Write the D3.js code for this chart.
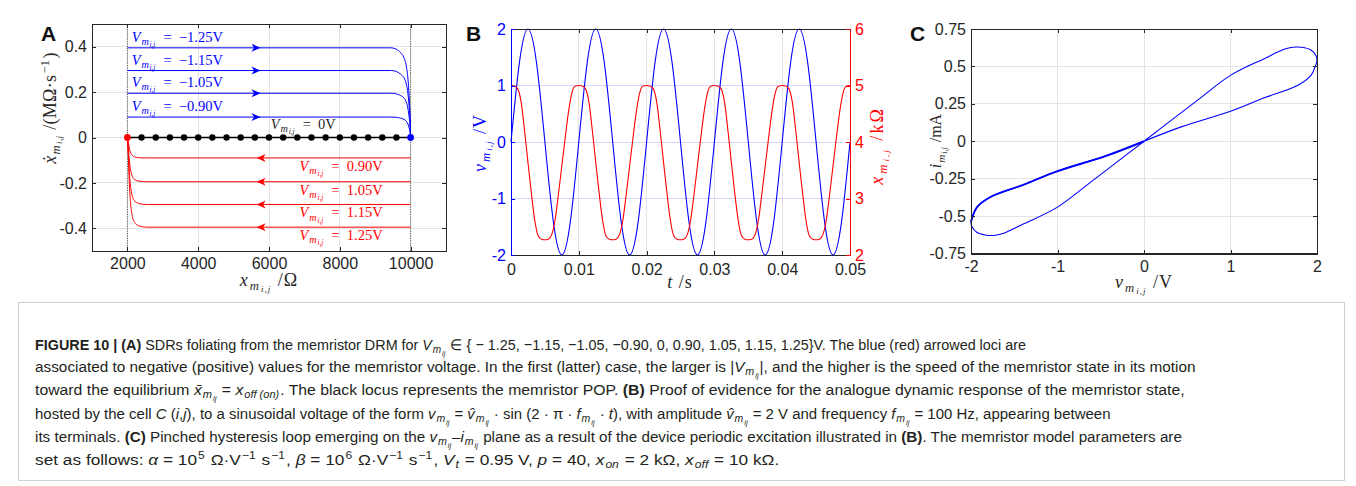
<!DOCTYPE html>
<html>
<head>
<meta charset="utf-8">
<script src="https://cdn.jsdelivr.net/npm/d3@7"></script>
<style>
  body { margin: 0; background: #fff; }
  svg text { white-space: pre; }
</style>
</head>
<body>
<svg id="fig" width="1356" height="486"></svg>
<script>
// ---------- data ----------

// panel A: state speed loci (x in ohm, xdot in MOhm/s)
const aXTicks = [2000, 4000, 6000, 8000, 10000]
const aYTicks = [-0.4, -0.2, 0, 0.2, 0.4]
const blueNames = ["\u22121.25V", "\u22121.15V", "\u22121.05V", "\u22120.90V"]
const blueX = [2000, 9455, 9596, 9718, 9812, 9878, 9925, 9963, 9991, 10000]
const blueY = [
  [0.395, 0.395, 0.389, 0.374, 0.352, 0.316, 0.258, 0.170, 0.068, 0],
  [0.295, 0.295, 0.291, 0.279, 0.263, 0.236, 0.193, 0.127, 0.051, 0],
  [0.195, 0.195, 0.192, 0.185, 0.174, 0.156, 0.127, 0.084, 0.034, 0],
  [0.090, 0.090, 0.089, 0.085, 0.080, 0.072, 0.059, 0.039, 0.015, 0]
]
const redNames = ["0.90V", "1.05V", "1.15V", "1.25V"]
const redX = [2000, 2028, 2056, 2094, 2141, 2207, 2282, 2423, 2564, 10000]
const redY = [
  [0, -0.021, -0.048, -0.068, -0.079, -0.086, -0.088, -0.090, -0.090, -0.090],
  [0, -0.045, -0.103, -0.146, -0.172, -0.185, -0.191, -0.194, -0.195, -0.195],
  [0, -0.069, -0.156, -0.221, -0.260, -0.280, -0.288, -0.294, -0.295, -0.295],
  [0, -0.092, -0.209, -0.296, -0.348, -0.375, -0.386, -0.393, -0.395, -0.395]
]
const blueArrowX = 5760
const redArrowX = 5650
const popDots = [2400, 2800, 3200, 3600, 4000, 4400, 4800, 5200, 5600, 6000,
                 6400, 6800, 7200, 7600, 8000, 8400, 8800, 9200, 9600]
const xOn = 2000, xOff = 10000

// panel B: voltage and state versus time
const bXTicks = [0, 0.01, 0.02, 0.03, 0.04, 0.05]
const bYTicks = [-2, -1, 0, 1, 2]
const bY2Ticks = [2, 3, 4, 5, 6]
const vTime = d3.range(41).map(k => k * 0.00125)
const vVolt = [0, 1.414, 2, 1.414, 0, -1.414, -2, -1.414,
               0, 1.414, 2, 1.414, 0, -1.414, -2, -1.414,
               0, 1.414, 2, 1.414, 0, -1.414, -2, -1.414,
               0, 1.414, 2, 1.414, 0, -1.414, -2, -1.414,
               0, 1.414, 2, 1.414, 0, -1.414, -2, -1.414, 0]
const xTime = d3.range(101).map(k => k * 0.0005)
const xState = [
  5.00, 4.99, 4.94, 4.70, 4.20, 3.64, 3.10, 2.62, 2.34, 2.28, 2.27, 2.28, 2.36, 2.62, 3.08, 3.58, 4.08, 4.55, 4.88, 4.99,
  5.00, 4.99, 4.94, 4.70, 4.20, 3.64, 3.10, 2.62, 2.34, 2.28, 2.27, 2.28, 2.36, 2.62, 3.08, 3.58, 4.08, 4.55, 4.88, 4.99,
  5.00, 4.99, 4.94, 4.70, 4.20, 3.64, 3.10, 2.62, 2.34, 2.28, 2.27, 2.28, 2.36, 2.62, 3.08, 3.58, 4.08, 4.55, 4.88, 4.99,
  5.00, 4.99, 4.94, 4.70, 4.20, 3.64, 3.10, 2.62, 2.34, 2.28, 2.27, 2.28, 2.36, 2.62, 3.08, 3.58, 4.08, 4.55, 4.88, 4.99,
  5.00, 4.99, 4.94, 4.70, 4.20, 3.64, 3.10, 2.62, 2.34, 2.28, 2.27, 2.28, 2.36, 2.62, 3.08, 3.58, 4.08, 4.55, 4.88, 4.99,
  5.00]

// panel C: pinched hysteresis loop (V, mA) in traversal order
const cXTicks = [-2, -1, 0, 1, 2]
const cYTicks = [-0.75, -0.5, -0.25, 0, 0.25, 0.5, 0.75]
const loopV = [0, 0.43, 1.0, 1.39, 1.78, 1.93, 1.98, 2.0, 1.99, 1.93, 1.82, 1.72, 1.62, 1.39, 1.0, 0.62, 0,
               -0.62, -1.0, -1.39, -1.62, -1.72, -1.82, -1.93, -1.99, -2.0, -1.98, -1.93, -1.78, -1.39, -1.0, -0.43, 0]
const loopI = [0, 0.096, 0.20, 0.29, 0.374, 0.44, 0.50, 0.54, 0.57, 0.61, 0.628, 0.628, 0.614, 0.552, 0.44, 0.275, 0,
               -0.275, -0.44, -0.552, -0.614, -0.628, -0.628, -0.61, -0.57, -0.54, -0.50, -0.44, -0.374, -0.29, -0.20, -0.096, 0]

// ---------- setup ----------
const svg = d3.select("#fig")
const ink = "#262626"
const gridGray = "#e3e3e3"
const blue = "#0000ff", red = "#ff0000"
const sans = "'Liberation Sans', Arial, sans-serif"
const serif = "'Liberation Serif', 'Times New Roman', serif"
const tickFont = 16
const labelFont = 18

// appends tspans; flags: b bold, i italic, 1 subscript, 2 sub-subscript, ^ superscript
function rich(text, segs, fs) {
  let cur = 0
  segs.forEach(([s, f = ""]) => {
    let off = 0, size = fs
    if (f.includes("1")) { off = 0.22 * fs; size = 0.7 * fs }
    if (f.includes("2")) { off = 0.36 * fs; size = 0.5 * fs }
    if (f.includes("^")) { off = -0.38 * fs; size = 0.7 * fs }
    const ts = text.append("tspan").text(s).attr("dy", off - cur).attr("font-size", size)
    if (off !== cur) ts.attr("dx", 0.06 * fs)
    if (f.includes("i")) ts.attr("font-style", "italic")
    if (f.includes("b")) ts.attr("font-weight", "bold")
    cur = off
  })
  return text
}

function grid(x, y, xt, yt, xc, yc) {
  const g = svg.append("g").attr("shape-rendering", "crispEdges")
  g.selectAll(".gx").data(xt).join("line").attr("class", "gx")
    .attr("x1", d => x(d)).attr("x2", d => x(d))
    .attr("y1", y.range()[0]).attr("y2", y.range()[1]).attr("stroke", xc)
  g.selectAll(".gy").data(yt).join("line").attr("class", "gy")
    .attr("y1", d => y(d)).attr("y2", d => y(d))
    .attr("x1", x.range()[0]).attr("x2", x.range()[1]).attr("stroke", yc)
}

function styleAxis(g, color) {
  g.attr("font-family", sans).attr("font-size", tickFont).attr("color", color)
   .attr("shape-rendering", "crispEdges")
  g.selectAll("text").attr("shape-rendering", null)
}

// bottom/top/left/right axes with inward ticks
function axes(x, y, xt, yt, colors, padX = 7) {
  const [x0, x1] = x.range(), [y0, y1] = y.range()
  const fmt = d => String(d)
  svg.append("g").attr("transform", `translate(0,${y1})`)
    .call(d3.axisTop(x).tickValues(xt).tickFormat("").tickSizeInner(-4).tickSizeOuter(0))
    .call(g => styleAxis(g, colors.top))
  svg.append("g").attr("transform", `translate(0,${y0})`)
    .call(d3.axisBottom(x).tickValues(xt).tickFormat(fmt).tickSizeInner(-4).tickSizeOuter(0).tickPadding(padX))
    .call(g => styleAxis(g, colors.bottom))
  svg.append("g").attr("transform", `translate(${x0},0)`)
    .call(d3.axisLeft(y).tickValues(yt).tickFormat(fmt).tickSizeInner(-4).tickSizeOuter(0).tickPadding(5))
    .call(g => styleAxis(g, colors.left))
  if (colors.right) {
    svg.append("g").attr("transform", `translate(${x1},0)`)
      .call(d3.axisRight(y).tickValues(yt).tickFormat("").tickSizeInner(-4).tickSizeOuter(0))
      .call(g => styleAxis(g, colors.right))
  }
}

function panelLetter(x, y, s) {
  svg.append("text").attr("x", x).attr("y", y).text(s)
    .attr("font-family", sans).attr("font-weight", "bold").attr("font-size", 21).attr("fill", "#111")
}

function rotLabel(x, y, segs, fs, color, ls = 1) {
  const t = svg.append("text").attr("transform", `translate(${x},${y}) rotate(-90)`)
    .attr("text-anchor", "middle").attr("font-family", serif).attr("fill", color)
    .attr("letter-spacing", ls)
  return rich(t, segs, fs)
}

function xLabel(x, y, segs, fs, color, ls = 1) {
  const t = svg.append("text").attr("x", x).attr("y", y)
    .attr("text-anchor", "middle").attr("font-family", serif).attr("fill", color)
    .attr("letter-spacing", ls)
  return rich(t, segs, fs)
}

// ---------- panel A ----------
const xA = d3.scaleLinear().domain([1000, 11000]).range([92, 446])
const yA = d3.scaleLinear().domain([-0.5, 0.5]).range([251, 24])

grid(xA, yA, aXTicks, aYTicks, gridGray, gridGray)

// dotted boundaries at x_on and x_off
svg.append("g").selectAll("line").data([xOn, xOff]).join("line")
  .attr("x1", d => xA(d)).attr("x2", d => xA(d))
  .attr("y1", yA.range()[0]).attr("y2", yA.range()[1])
  .attr("stroke", "#555").attr("stroke-width", 1).attr("stroke-dasharray", "1.2,1.2")

const lineA = d3.line().curve(d3.curveMonotoneX)
blueY.forEach((ys, k) => {
  svg.append("path").attr("d", lineA(blueX.map((x, i) => [xA(x), yA(ys[i])])))
    .attr("fill", "none").attr("stroke", blue).attr("stroke-width", 1)
  svg.append("path").attr("transform", `translate(${xA(blueArrowX)},${yA(ys[0])})`)
    .attr("d", "M0,0 L-9,-4 L-6.5,0 L-9,4 Z").attr("fill", blue)
  const t = svg.append("text").attr("x", xA(2120)).attr("y", yA(ys[0]) - 6)
    .attr("font-family", serif).attr("fill", blue)
  rich(t, [["V", "i"], ["m", "i1"], ["i,j", "i2"], ["  =  " + blueNames[k]]], 14.5)
})
redY.forEach((ys, k) => {
  svg.append("path").attr("d", lineA(redX.map((x, i) => [xA(x), yA(ys[i])])))
    .attr("fill", "none").attr("stroke", red).attr("stroke-width", 1)
  const lvl = ys[ys.length - 1]
  svg.append("path").attr("transform", `translate(${xA(redArrowX)},${yA(lvl)})`)
    .attr("d", "M0,0 L9,-4 L6.5,0 L9,4 Z").attr("fill", red)
  const t = svg.append("text").attr("x", xA(9210)).attr("y", yA(lvl) + 13)
    .attr("text-anchor", "end").attr("font-family", serif).attr("fill", red)
  rich(t, [["V", "i"], ["m", "i1"], ["i,j", "i2"], ["  =  " + redNames[k]]], 14.5)
})

// memristor POP
svg.append("line").attr("x1", xA(xOn)).attr("x2", xA(xOff)).attr("y1", yA(0)).attr("y2", yA(0))
  .attr("stroke", "#000").attr("stroke-width", 1.5)
svg.append("g").selectAll("circle").data(popDots).join("circle")
  .attr("cx", d => xA(d)).attr("cy", yA(0)).attr("r", 3.2).attr("fill", "#000")
svg.append("circle").attr("cx", xA(xOn)).attr("cy", yA(0)).attr("r", 3.4).attr("fill", red)
svg.append("circle").attr("cx", xA(xOff)).attr("cy", yA(0)).attr("r", 3.4).attr("fill", blue)

{
  const t = svg.append("text").attr("x", xA(6050)).attr("y", yA(0) - 9)
    .attr("font-family", serif).attr("fill", ink)
  rich(t, [["V", "i"], ["m", "i1"], ["i,j", "i2"], ["  =  0V"]], 14.5)
}

svg.append("rect").attr("x", 92).attr("y", 24).attr("width", 446 - 92).attr("height", 251 - 24)
  .attr("fill", "none").attr("stroke", ink).attr("shape-rendering", "crispEdges")
axes(xA, yA, aXTicks, aYTicks, { top: ink, bottom: ink, left: ink, right: ink })
panelLetter(41, 41, "A")
rotLabel(56, 108, [["x\u0307", "i"], ["m", "i1"], ["i,j", "i2"], [" /(M\u03A9\u00B7s"], ["\u22121", "^"], [")"]], labelFont, ink, 0.3)
xLabel(269, 286, [["x", "i"], ["m", "i1"], ["i,j", "i2"], [" /\u03A9"]], labelFont, ink)

// ---------- panel B ----------
const xB = d3.scaleLinear().domain([0, 0.05]).range([511, 850])
const yB = d3.scaleLinear().domain([-2, 2]).range([255, 29])
const yB2 = d3.scaleLinear().domain([2, 6]).range([255, 29])

grid(xB, yB, bXTicks, bYTicks, gridGray, "#d6d6ff")

svg.append("path")
  .attr("d", d3.line().curve(d3.curveNatural)(vTime.map((t, i) => [xB(t), yB(vVolt[i])])))
  .attr("fill", "none").attr("stroke", blue).attr("stroke-width", 1.1)
svg.append("path")
  .attr("d", d3.line().curve(d3.curveMonotoneX)(xTime.map((t, i) => [xB(t), yB2(xState[i])])))
  .attr("fill", "none").attr("stroke", red).attr("stroke-width", 1.1)

axes(xB, yB, bXTicks, bYTicks, { top: ink, bottom: ink, left: blue }, 9)
svg.append("g").attr("transform", `translate(850,0)`)
  .call(d3.axisRight(yB2).tickValues(bY2Ticks).tickFormat(d => String(d)).tickSizeInner(-4).tickSizeOuter(0).tickPadding(5))
  .call(g => styleAxis(g, red))
panelLetter(466, 41, "B")
rotLabel(486, 143, [["v", "i"], ["m", "i1"], ["i,j", "i2"], [" /V"]], labelFont, blue)
rotLabel(883, 146, [["x", "i"], ["m", "i1"], ["i,j", "i2"], [" /k\u03A9"]], labelFont, red, 2)
xLabel(680, 288, [["t", "i"], [" /s"]], labelFont, ink)

// ---------- panel C ----------
const xC = d3.scaleLinear().domain([-2, 2]).range([971, 1317])
const yC = d3.scaleLinear().domain([-0.75, 0.75]).range([253.5, 29])

grid(xC, yC, cXTicks, cYTicks, gridGray, gridGray)

const lineC = d3.line().curve(d3.curveCatmullRom.alpha(0.5))
svg.append("path").attr("d", lineC(loopV.map((v, i) => [xC(v), yC(loopI[i])])))
  .attr("fill", "none").attr("stroke", blue).attr("stroke-width", 1.1)
// the return branch on the negative side is traced repeatedly, so it reads heavier
const heavy = d3.range(25, loopV.length)
svg.append("path").attr("d", lineC(heavy.map(i => [xC(loopV[i]), yC(loopI[i])])))
  .attr("fill", "none").attr("stroke", blue).attr("stroke-width", 1.9)

svg.append("rect").attr("x", 971).attr("y", 29).attr("width", 1317 - 971).attr("height", 253.5 - 29)
  .attr("fill", "none").attr("stroke", ink).attr("shape-rendering", "crispEdges")
axes(xC, yC, cXTicks, cYTicks, { top: ink, bottom: ink, left: ink, right: ink })
panelLetter(910, 41, "C")
rotLabel(941, 141, [["i", "i"], ["m", "i1"], ["i,j", "i2"], [" /mA"]], 16, ink, 0)
xLabel(1144, 288, [["v", "i"], ["m", "i1"], ["i,j", "i2"], [" /V"]], labelFont, ink)

// ---------- caption ----------
svg.append("rect").attr("x", 18.5).attr("y", 302.5).attr("width", 1326).attr("height", 178)
  .attr("fill", "none").attr("stroke", "#cfcfcf").attr("shape-rendering", "crispEdges")

const vmij = [["m", "i1"], ["ij", "i2"]]
const captionLines = [
  [[["FIGURE 10 | (A)", "b"], [" SDRs foliating from the memristor DRM for "], ["V", "i"], ...vmij,
    [" \u2208 { \u2212 1.25, \u22121.15, \u22121.05, \u22120.90, 0, 0.90, 1.05, 1.15, 1.25}V. The blue (red) arrowed loci are"]], 350, 990],
  [[["associated to negative (positive) values for the memristor voltage. In the first (latter) case, the larger is |"], ["V", "i"], ...vmij,
    ["|, and the higher is the speed of the memristor state in its motion"]], 372, 1159],
  [[["toward the equilibrium "], ["x\u0304", "i"], ...vmij, [" = "], ["x", "i"], ["off (on)", "i1"],
    [". The black locus represents the memristor POP. "], ["(B)", "b"], [" Proof of evidence for the analogue dynamic response of the memristor state,"]], 395, 1146],
  [[["hosted by the cell "], ["C", "i"], [" ("], ["i", "i"], [","], ["j", "i"], ["), to a sinusoidal voltage of the form "], ["v", "i"], ...vmij,
    [" = "], ["v\u0302", "i"], ...vmij, [" \u00B7 sin (2 \u00B7 \u03C0 \u00B7 "], ["f", "i"], ...vmij, [" \u00B7 "], ["t", "i"],
    ["), with amplitude "], ["v\u0302", "i"], ...vmij, [" = 2 V and frequency "], ["f", "i"], ...vmij, [" = 100 Hz, appearing between"]], 419, 1063],
  [[["its terminals. "], ["(C)", "b"], [" Pinched hysteresis loop emerging on the "], ["v", "i"], ...vmij, ["\u2013"], ["i", "i"], ...vmij,
    [" plane as a result of the device periodic excitation illustrated in "], ["(B)", "b"], [". The memristor model parameters are"]], 442, 1142],
  [[["set as follows: "], ["\u03B1", "i"], [" = 10"], ["5", "^"], [" \u03A9\u00B7V"], ["\u22121", "^"], [" s"], ["\u22121", "^"], [", "],
    ["\u03B2", "i"], [" = 10"], ["6", "^"], [" \u03A9\u00B7V"], ["\u22121", "^"], [" s"], ["\u22121", "^"], [", "],
    ["V", "i"], ["t", "i1"], [" = 0.95 V, "], ["p", "i"], [" = 40, "], ["x", "i"], ["on", "i1"], [" = 2 k\u03A9, "],
    ["x", "i"], ["off", "i1"], [" = 10 k\u03A9."]], 465, 726]
]
// the caption face is condensed: squeeze each line horizontally to its measured width
captionLines.forEach(([segs, y, len]) => {
  const t = svg.append("text").attr("x", 0).attr("y", 0)
    .attr("font-family", sans).attr("fill", "#231f20")
  rich(t, segs, 15.5)
  const natural = t.node().getComputedTextLength()
  t.attr("transform", `translate(35,${y}) scale(${len / natural},1)`)
})
</script>
</body>
</html>
